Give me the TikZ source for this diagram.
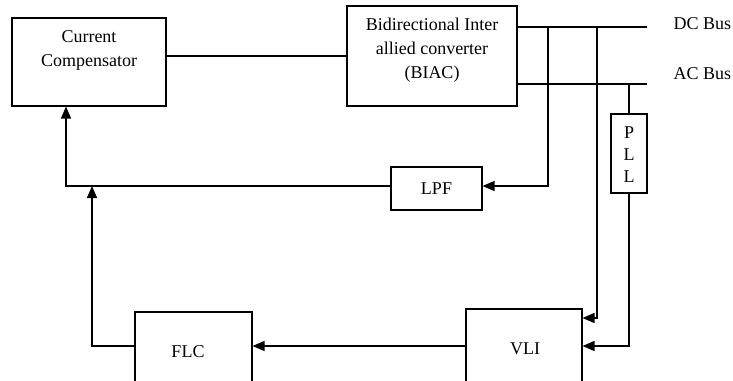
\documentclass[tikz,border=0pt]{standalone}
\usepackage{fontspec}
\setmainfont{Liberation Serif}
\usetikzlibrary{arrows.meta}
\begin{document}
\begin{tikzpicture}[x=1pt,y=-1pt,
  line width=1.4pt,
  box/.style={draw,line width=1.1pt,rectangle,inner sep=0pt},
  txt/.style={inner sep=0pt,align=center,font=\fontsize{18}{24}\selectfont},
  arr/.style={-{Triangle[length=12pt,width=10pt]}}]
\useasboundingbox (0,0) rectangle (733,380);
\clip (0,0) rectangle (733,380);
% boxes
\node[box,minimum width=154,minimum height=88] (cc) at (89,62) {};
\node[txt] (cct) at (89,50) {Current\\Compensator};
\node[box,minimum width=170,minimum height=100] (biac) at (432,56) {};
\node[txt] (biact) at (432,50) {Bidirectional Inter\\allied converter\\(BIAC)};
\node[box,minimum width=91,minimum height=43] (lpf) at (436.5,188.5) {};
\node[txt] (lpft) at (436.5,189) {LPF};
\node[box,minimum width=36,minimum height=79] (pll) at (629,153.5) {};
\node[txt,font=\fontsize{18}{22}\selectfont] (pllt) at (629,155) {P\\L\\L};
\node[box,minimum width=117,minimum height=88] (flc) at (193.5,356) {};
\node[txt] (flct) at (188,352) {FLC};
\node[box,minimum width=116,minimum height=91] (vli) at (524,354.5) {};
\node[txt] (vlit) at (525,349) {VLI};
% bus labels
\coordinate (dcend) at (647,27);
\coordinate (acend) at (647,84);
\node[txt,anchor=west] (dclab) at (673,24) {DC Bus};
\node[txt,anchor=west] (aclab) at (673,74) {AC Bus};
% connectors
\draw (cc.east |- 0,56) -- (biac.west |- 0,56);
\draw (biac.east |- dcend) -- (dcend);
\draw (biac.east |- acend) -- (acend);
\coordinate (j1) at (548,27);
\coordinate (j2) at (597,27);
\coordinate (j3) at (629,84);
\draw[arr] (j1) -- (548,186) -- (lpf.east |- 0,186);
\draw[arr] (j2) -- (597,318) -- (vli.east |- 0,318);
\draw (j3) -- (pll.north);
\draw[arr] (pll.south) -- (629,346) -- (vli.east |- 0,346);
\draw[arr] (vli.west |- 0,346) -- (flc.east |- 0,346);
\coordinate (fb) at (92,186);
\draw[arr] (flc.west |- 0,346) -- (92,346) -- (fb);
\draw[arr] (lpf.west |- 0,186) -- (66,186) -- (cc.south -| 66,0);
\end{tikzpicture}
\end{document}
